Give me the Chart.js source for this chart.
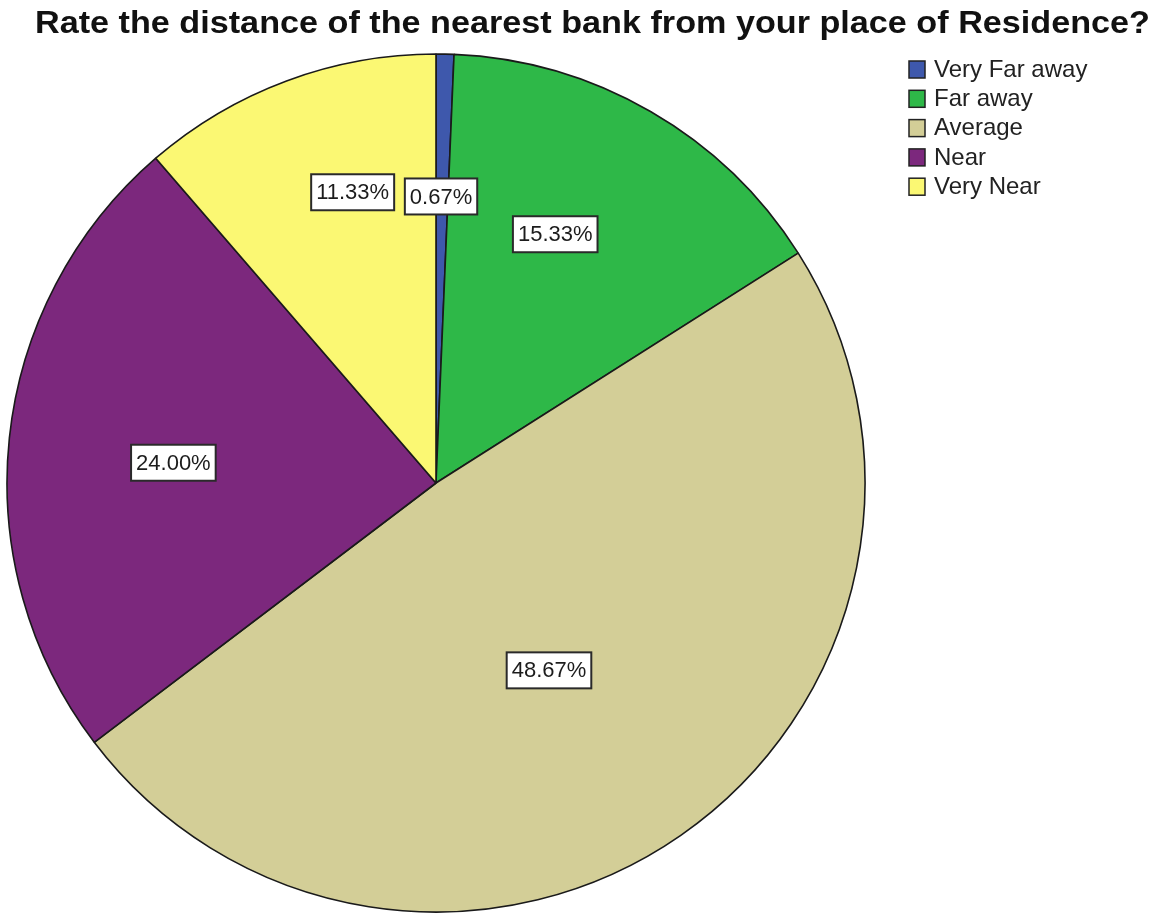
<!DOCTYPE html>
<html>
<head>
<meta charset="utf-8">
<script src="https://cdn.jsdelivr.net/npm/chart.js@4/dist/chart.umd.min.js"></script>
<style>
  html, body { margin: 0; padding: 0; background: #fff; }
  #wrap { position: relative; width: 1158px; height: 915px; }
</style>
</head>
<body>
<div id="wrap"><canvas id="cPie" width="1158" height="915"></canvas></div>
<script>
/* Nearest bank distance — pie with boxed percentage labels */
const titleText = 'Rate the distance of the nearest bank from your place of Residence?';
const categories = ['Very Far away', 'Far away', 'Average', 'Near', 'Very Near'];
const shares = [0.67, 15.33, 48.67, 24.00, 11.33];
const sliceColors = ['#3E58AC', '#2EB848', '#D3CE97', '#7C287D', '#FBF873'];

// label placement per slice: fraction of radius, angle nudge (deg)
const labelRadius = [0.668, 0.643, 0.51, 0.614, 0.705];
const labelNudge = [-0.2, -4.4, 3.7, -1.6, 4.4];

const FONT = 'Arial, "Liberation Sans", sans-serif';

// title is squeezed to span the full width
const titlePlugin = {
  id: 'fitTitle',
  afterDraw(chart) {
    const ctx = chart.ctx;
    ctx.save();
    ctx.font = 'bold 32px ' + FONT;
    ctx.fillStyle = '#111';
    ctx.textBaseline = 'middle';
    const w = ctx.measureText(titleText).width;
    ctx.translate(35, 24);
    ctx.scale(1115 / w, 1);
    ctx.fillText(titleText, 0, 0);
    ctx.restore();
  }
};

const boxLabels = {
  id: 'boxLabels',
  afterDatasetsDraw(chart) {
    const ctx = chart.ctx;
    const meta = chart.getDatasetMeta(0);
    ctx.save();
    ctx.font = '22px ' + FONT;
    ctx.textAlign = 'center';
    ctx.textBaseline = 'middle';
    meta.data.forEach((arc, i) => {
      const { x, y, startAngle, endAngle, outerRadius } = arc.getProps(['x', 'y', 'startAngle', 'endAngle', 'outerRadius'], true);
      const mid = (startAngle + endAngle) / 2 + labelNudge[i] * Math.PI / 180;
      const r = outerRadius * labelRadius[i];
      const cx = x + Math.cos(mid) * r, cy = y + Math.sin(mid) * r;
      const txt = shares[i].toFixed(2) + '%';
      const tw = ctx.measureText(txt).width;
      const bw = tw + 10, bh = 36;
      ctx.fillStyle = '#fff';
      ctx.fillRect(cx - bw / 2, cy - bh / 2, bw, bh);
      ctx.lineWidth = 2;
      ctx.strokeStyle = '#2a2a2a';
      ctx.strokeRect(cx - bw / 2, cy - bh / 2, bw, bh);
      ctx.fillStyle = '#1c1c1c';
      ctx.fillText(txt, cx, cy + 1);
    });
    ctx.restore();
  }
};

const sideLegend = {
  id: 'sideLegend',
  afterDraw(chart) {
    const ctx = chart.ctx;
    ctx.save();
    ctx.font = '24px ' + FONT;
    ctx.textBaseline = 'middle';
    categories.forEach((c, i) => {
      const y = 69 + i * 29.3;
      ctx.fillStyle = sliceColors[i];
      ctx.fillRect(909, y - 8, 16, 17);
      ctx.lineWidth = 1.5;
      ctx.strokeStyle = '#222';
      ctx.strokeRect(909, y - 8, 16, 17);
      ctx.fillStyle = '#222';
      ctx.fillText(c, 934, y + 1);
    });
    ctx.restore();
  }
};

new Chart(document.getElementById('cPie'), {
  type: 'pie',
  data: {
    labels: categories,
    datasets: [{
      data: shares,
      backgroundColor: sliceColors,
      borderColor: '#1a1a1a',
      borderWidth: 1.6
    }]
  },
  options: {
    responsive: false,
    animation: false,
    radius: 429,
    layout: { padding: { left: 0, right: 286, top: 51, bottom: 0 } },
    plugins: { legend: { display: false }, tooltip: { enabled: false }, title: { display: false } }
  },
  plugins: [titlePlugin, boxLabels, sideLegend]
});
</script>
</body>
</html>
